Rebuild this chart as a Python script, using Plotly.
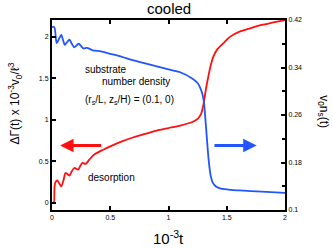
import plotly.graph_objects as go

# Desorption (left axis, ΔΓ(t) x 10^-3 v0/l^3)
red_t = [0.0, 0.015, 0.022, 0.03, 0.045, 0.06, 0.08, 0.10, 0.115, 0.13, 0.15, 0.17, 0.19, 0.21, 0.225,
         0.245, 0.26, 0.29, 0.32, 0.36, 0.44, 0.5, 0.6, 0.7, 0.8, 0.9, 1.0, 1.1, 1.2, 1.25, 1.28,
         1.295, 1.305, 1.32, 1.342, 1.36, 1.385, 1.42, 1.47, 1.53, 1.61, 1.7, 1.8, 1.9, 2.0]
red_v = [0.0, 0.0, 0.2, 0.25, 0.27, 0.24, 0.20, 0.28, 0.36, 0.35, 0.33, 0.38, 0.42, 0.41, 0.40,
         0.45, 0.48, 0.47, 0.52, 0.58, 0.64, 0.68, 0.74, 0.79, 0.83, 0.87, 0.90, 0.93, 0.97, 1.01, 1.07,
         1.15, 1.22, 1.36, 1.52, 1.64, 1.76, 1.85, 1.92, 2.0, 2.06, 2.10, 2.14, 2.17, 2.2]

# Substrate number density (right axis, v0 n_s(t))
blue_t = [0.0, 0.02, 0.04, 0.06, 0.08, 0.095, 0.11, 0.13, 0.15, 0.17, 0.19, 0.21, 0.23, 0.25, 0.27,
          0.30, 0.35, 0.42, 0.5, 0.6, 0.7, 0.8, 0.9, 1.0, 1.1, 1.2, 1.25, 1.28, 1.295, 1.305,
          1.32, 1.342, 1.36, 1.38, 1.41, 1.45, 1.53, 1.61, 1.8, 2.0]
blue_v = [0.408, 0.408, 0.381, 0.388, 0.395, 0.386, 0.378, 0.383, 0.387, 0.380, 0.374, 0.377, 0.380, 0.376, 0.372,
          0.373, 0.369, 0.367, 0.363, 0.358, 0.352, 0.347, 0.342, 0.337, 0.332, 0.322, 0.314, 0.302, 0.292, 0.280,
          0.245, 0.19, 0.16, 0.146, 0.139, 0.136, 0.134, 0.133, 0.131, 0.129]

x_ticks = [0, 0.5, 1, 1.5, 2]
x_labels = ["0", "0.5", "1", "1.5", "2"]
y_ticks = [0, 0.5, 1, 1.5, 2]
y_labels = ["0", "0.5", "1", "1.5", "2"]
y2_ticks = [0.1, 0.18, 0.26, 0.34, 0.42]
y2_labels = ["0.1", "0.18", "0.26", "0.34", "0.42"]

RED = "#ff1010"
BLUE = "#2255ff"
FONT = "Liberation Sans, Arial, sans-serif"

fig = go.Figure()
fig.add_trace(go.Scatter(x=red_t, y=red_v, mode="lines",
                         line=dict(color=RED, width=1.8, shape="spline", smoothing=0.7),
                         yaxis="y", showlegend=False))
fig.add_trace(go.Scatter(x=blue_t, y=blue_v, mode="lines",
                         line=dict(color=BLUE, width=1.8, shape="spline", smoothing=0.7),
                         yaxis="y2", showlegend=False))

axis_common = dict(showline=True, linecolor="black", linewidth=2, ticks="inside", ticklen=4,
                   tickwidth=1.5, tickcolor="black", showgrid=False, zeroline=False,
                   tickfont=dict(size=7, color="black", family=FONT))

fig.update_layout(
    width=333, height=249,
    margin=dict(l=52, r=48, t=20, b=39),
    paper_bgcolor="white", plot_bgcolor="white",
    font=dict(family=FONT, color="black"),
    xaxis=dict(range=[0, 2], tickvals=x_ticks, ticktext=x_labels, mirror="ticks", **axis_common),
    yaxis=dict(range=[-0.085, 2.2], tickvals=y_ticks, ticktext=y_labels, **axis_common),
    yaxis2=dict(range=[0.1, 0.42], tickvals=y2_ticks, ticktext=y2_labels, overlaying="y", side="right",
                minor=dict(tickvals=[0.14, 0.22, 0.30, 0.38], ticks="inside", ticklen=3,
                           tickcolor="black", tickwidth=1.5),
                **axis_common),
    annotations=[
        dict(text="cooled", xref="paper", yref="paper", x=0.5, y=1.0, yshift=12, showarrow=False,
             font=dict(size=15), xanchor="center", yanchor="middle"),
        dict(text="10<sup>-3</sup>t", xref="paper", yref="paper", x=0.5, y=0, yshift=-27, showarrow=False,
             font=dict(size=15), xanchor="center", yanchor="middle"),
        dict(text="ΔΓ(t) x 10<sup>-3</sup>v<sub>0</sub>/ℓ<sup>3</sup>", xref="paper", yref="paper",
             x=0, xshift=-37, y=0.56, showarrow=False, textangle=-90,
             font=dict(size=12), xanchor="center", yanchor="middle"),
        dict(text="v<sub>0</sub>n<sub>s</sub>(t)", xref="paper", yref="paper",
             x=1, xshift=38, y=0.52, showarrow=False, textangle=90,
             font=dict(size=12), xanchor="center", yanchor="middle"),
        dict(text="substrate", xref="x", yref="y", x=0.266, y=1.60, showarrow=False,
             font=dict(size=10), xanchor="left", yanchor="middle"),
        dict(text="number density", xref="x", yref="y", x=0.412, y=1.46, showarrow=False,
             font=dict(size=10), xanchor="left", yanchor="middle"),
        dict(text="(r<sub>s</sub>/L, z<sub>s</sub>/H) = (0.1, 0)", xref="x", yref="y", x=0.264, y=1.24,
             showarrow=False, font=dict(size=10), xanchor="left", yanchor="middle"),
        dict(text="desorption", xref="x", yref="y", x=0.289, y=0.305, showarrow=False,
             font=dict(size=10), xanchor="left", yanchor="middle"),
        dict(text="", xref="x", yref="y", x=0.069, y=0.69, ax=0.435, ay=0.69, axref="x", ayref="y",
             showarrow=True, arrowhead=2, arrowwidth=3, arrowsize=0.9, arrowcolor=RED),
        dict(text="", xref="x", yref="y", x=1.757, y=0.69, ax=1.382, ay=0.69, axref="x", ayref="y",
             showarrow=True, arrowhead=2, arrowwidth=3, arrowsize=0.9, arrowcolor=BLUE),
    ],
)

fig.write_html("out.html", config={"displayModeBar": False})

# remove the default page margin so the figure sits at the window's top-left corner
with open("out.html", "r", encoding="utf-8") as f:
    html = f.read()
html = html.replace("<head>", "<head><style>html,body{margin:0;padding:0;overflow:hidden;}</style>", 1)
with open("out.html", "w", encoding="utf-8") as f:
    f.write(html)
